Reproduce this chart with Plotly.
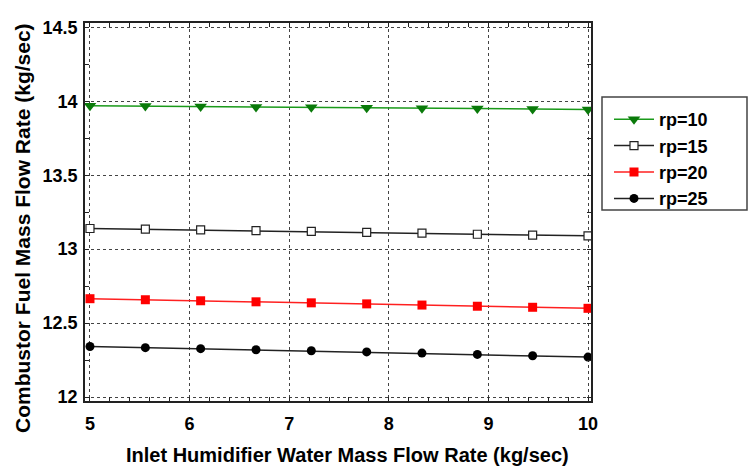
import plotly.graph_objects as go

x_vals = [5.0, 5.556, 6.111, 6.667, 7.222, 7.778, 8.333, 8.889, 9.444, 10.0]
rp10 = [13.970, 13.968, 13.965, 13.962, 13.960, 13.957, 13.954, 13.951, 13.948, 13.945]
rp15 = [13.140, 13.135, 13.130, 13.125, 13.120, 13.114, 13.108, 13.101, 13.095, 13.090]
rp20 = [12.665, 12.658, 12.651, 12.644, 12.637, 12.630, 12.622, 12.614, 12.607, 12.600]
rp25 = [12.342, 12.334, 12.327, 12.320, 12.313, 12.305, 12.297, 12.288, 12.279, 12.270]
series_names = ["rp=10", "rp=15", "rp=20", "rp=25"]
x_ticks = [5, 6, 7, 8, 9, 10]
y_ticks = [12, 12.5, 13, 13.5, 14, 14.5]
y_tick_text = ["12", "12.5", "13", "13.5", "14", "14.5"]
x_title = "Inlet Humidifier Water Mass Flow Rate (kg/sec)"
y_title = "Combustor Fuel Mass Flow Rate (kg/sec)"

FONT = "Liberation Sans, Arial, sans-serif"

fig = go.Figure()
styles = [
    dict(line=dict(color="#1a9a1a", width=1.5),
         marker=dict(symbol="triangle-down", size=11, color="#0a7a0a", line=dict(width=0))),
    dict(line=dict(color="#222222", width=1.5),
         marker=dict(symbol="square", size=8, color="white", line=dict(color="#222222", width=1.2))),
    dict(line=dict(color="#ff2020", width=1.5),
         marker=dict(symbol="square", size=9, color="#ff0000", line=dict(width=0))),
    dict(line=dict(color="#222222", width=1.5),
         marker=dict(symbol="circle", size=9, color="#000000", line=dict(width=0))),
]
for name, ys, st in zip(series_names, [rp10, rp15, rp20, rp25], styles):
    fig.add_trace(go.Scatter(x=x_vals, y=ys, mode="lines+markers", name=name, **st))

axis_common = dict(
    showline=True, linecolor="#222222", linewidth=1.5, mirror="allticks",
    ticks="inside", ticklen=0, tickcolor="#222222",
    showgrid=True, gridcolor="#444444", griddash="3px,3px", gridwidth=1,
    zeroline=False, automargin=False,
    tickfont=dict(family=FONT, size=18, color="black", weight="bold"),
)

fig.update_xaxes(
    range=[4.95, 10.03], tickvals=x_ticks,
    minor=dict(dtick=0.2, tick0=5, ticks="inside", ticklen=4, tickcolor="#222222", showgrid=False),
    ticklabelstandoff=6,
    **axis_common,
)
fig.update_yaxes(
    range=[11.973, 14.53], tickvals=y_ticks, ticktext=y_tick_text,
    minor=dict(dtick=0.25, tick0=12, ticks="inside", ticklen=4, tickcolor="#222222", showgrid=False),
    ticklabelstandoff=2,
    **axis_common,
)

L, R, T, B = 85, 160, 23, 69
PW, PH = 751 - L - R, 470 - T - B

def px_x(p):
    return (p - L) / PW

def px_y(p):
    return (470 - B - p) / PH

fig.add_annotation(text=x_title, xref="paper", yref="paper", x=px_x(347), y=px_y(455),
                   xanchor="center", yanchor="middle", showarrow=False,
                   font=dict(family=FONT, size=20, color="black", weight="bold"))
fig.add_annotation(text=y_title, xref="paper", yref="paper", x=px_x(22), y=px_y(228),
                   xanchor="center", yanchor="middle", showarrow=False, textangle=-90,
                   font=dict(family=FONT, size=21, color="black", weight="bold"))

fig.add_shape(type="rect", xref="paper", yref="paper",
              x0=px_x(602), x1=px_x(747), y0=px_y(210), y1=px_y(97),
              line=dict(color="#444444", width=1.5), fillcolor="rgba(0,0,0,0)", layer="above")

fig.update_layout(
    width=751, height=470,
    margin=dict(l=L, r=R, t=T, b=B),
    plot_bgcolor="white", paper_bgcolor="white",
    legend=dict(x=px_x(609), y=px_y(101), xanchor="left", yanchor="top",
                borderwidth=0, bgcolor="rgba(0,0,0,0)",
                font=dict(family=FONT, size=18, color="black", weight="bold"),
                tracegroupgap=2, itemwidth=40),
)

fig.write_html("out.html", config={"displayModeBar": False},
               post_script="document.body.style.margin='0';")
